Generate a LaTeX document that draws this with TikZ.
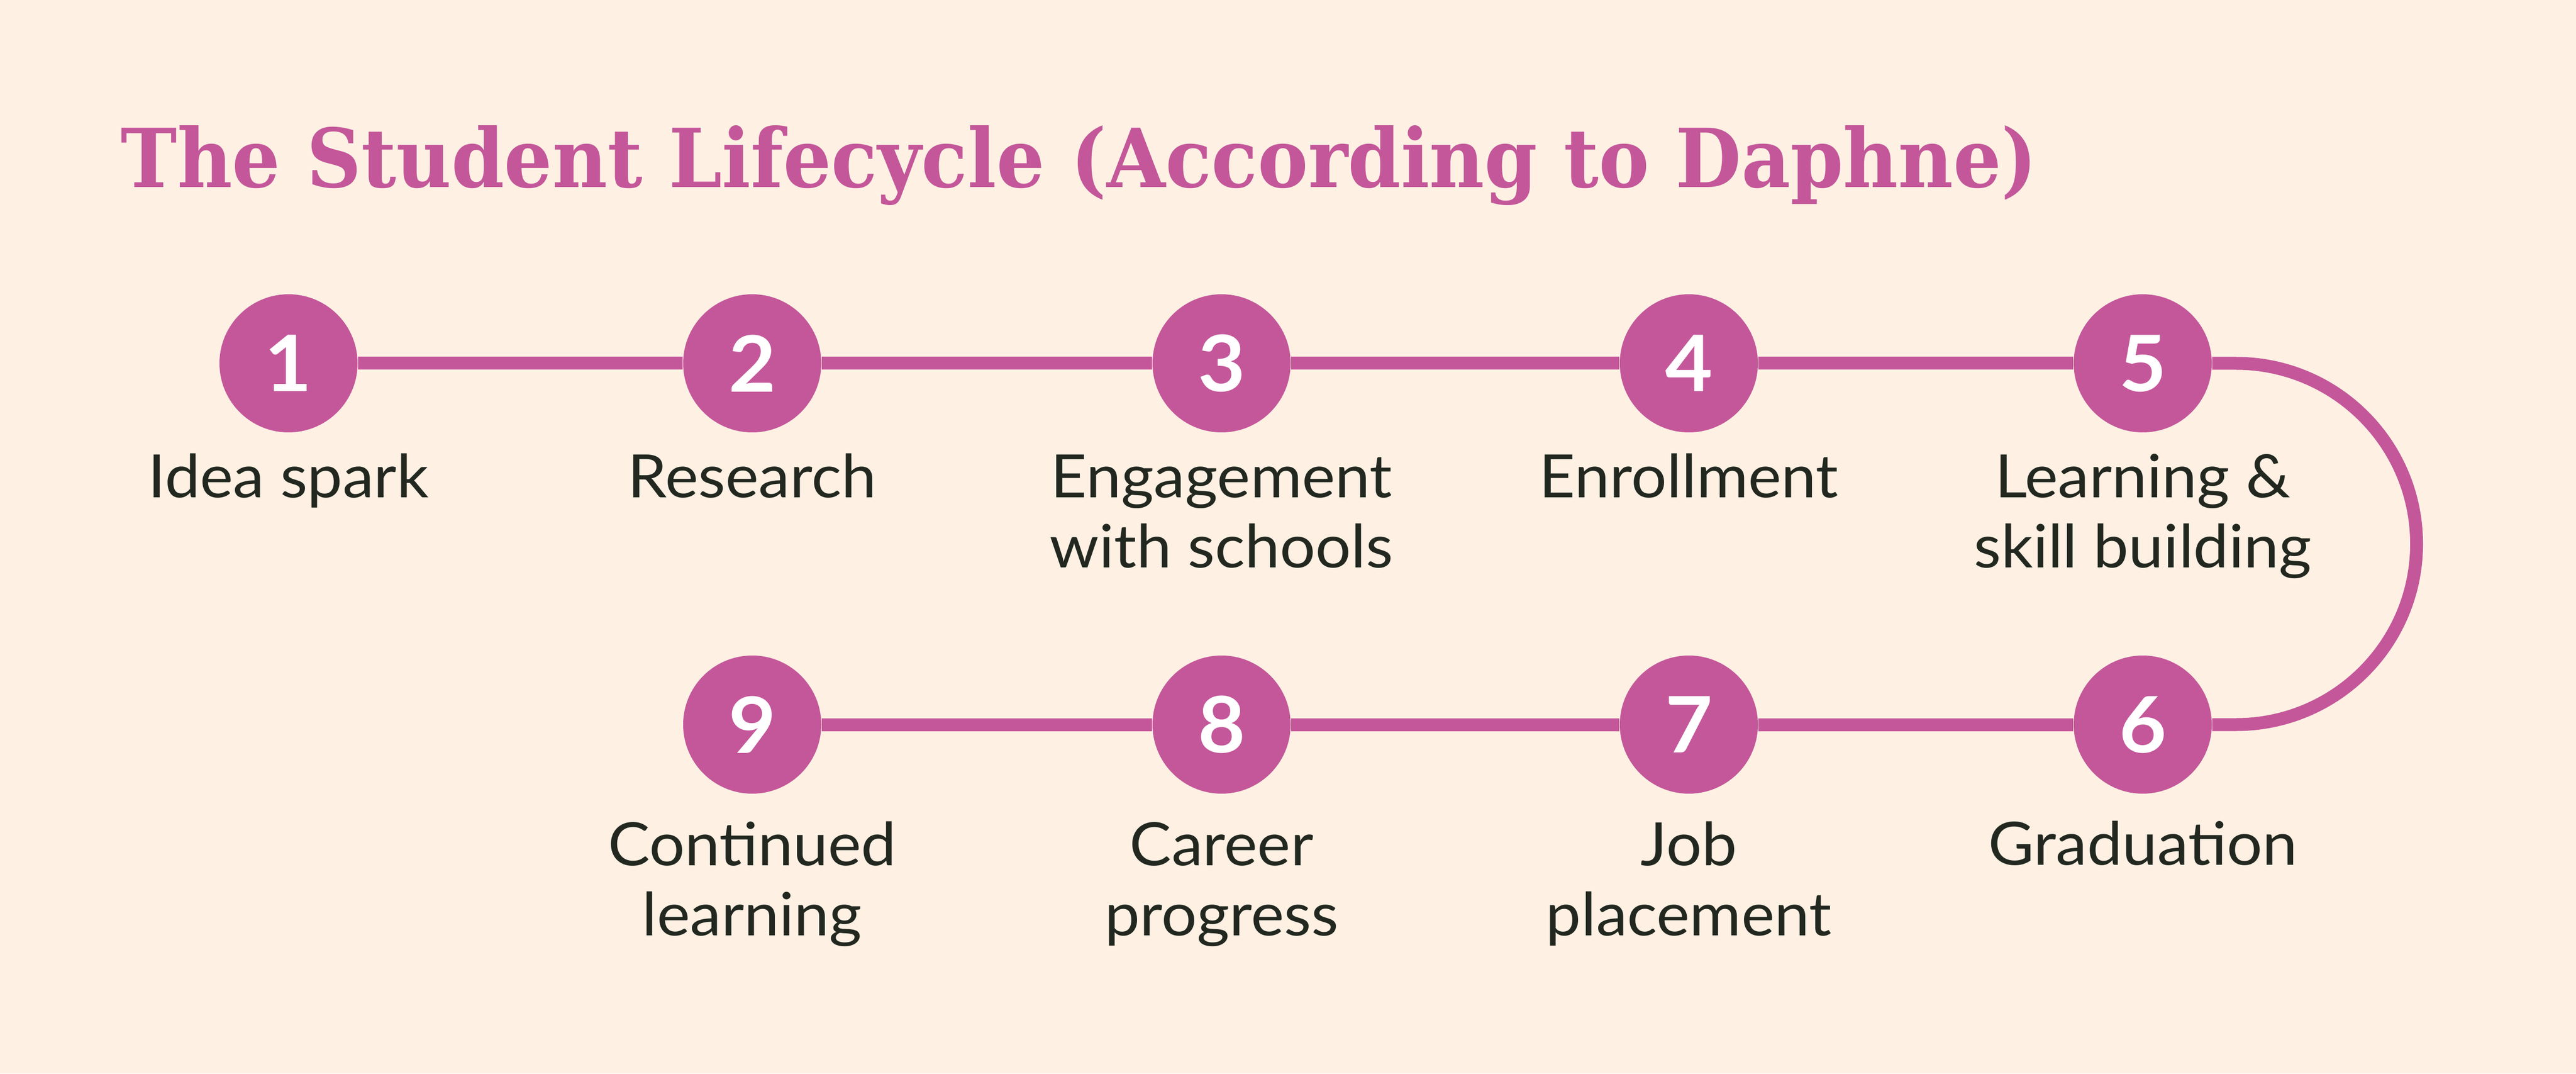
\documentclass[tikz,border=0pt]{standalone}
\usepackage{fontspec}
\setmainfont{Lato}[FakeStretch=1.05]
\newfontfamily\titlefont{DejaVu Serif}
\usetikzlibrary{positioning}
\definecolor{peach}{HTML}{FEF0E3}
\definecolor{orchid}{HTML}{C4579A}
\definecolor{ink}{HTML}{22281F}
\tikzstyle{stepdot} = [circle, fill=orchid, minimum size=2.68cm, inner sep=0pt, text=white, font=\fontsize{43}{43}\selectfont\bfseries]
\tikzstyle{steplabel} = [anchor=base, align=center, inner sep=0pt, text=ink, font=\fontsize{33}{38.6}\selectfont]
\tikzstyle{track} = [draw=orchid, line width=0.25cm]

\begin{document}
\begin{tikzpicture}[node distance=9cm]

\path[fill=peach, use as bounding box] (0,0) rectangle (50,20.83);

\node (title) [anchor=base west, inner sep=0pt, text=orchid] at (2.34,17.19) {\resizebox{37.2cm}{1.2cm}{\titlefont\fontsize{45}{45}\selectfont\bfseries The Student Lifecycle (According to Daphne)}};

\node (step1) [stepdot] at (5.60,13.78) {1};
\node (step2) [stepdot, right of=step1] {2};
\node (step3) [stepdot, right of=step2, xshift=0.11cm] {3};
\node (step4) [stepdot, right of=step3, xshift=0.07cm] {4};
\node (step5) [stepdot, right of=step4, xshift=-0.19cm] {5};
\node (step6) [stepdot, below of=step5, yshift=1.99cm] {6};
\node (step7) [stepdot, below of=step4, yshift=1.99cm] {7};
\node (step8) [stepdot, below of=step3, yshift=1.99cm] {8};
\node (step9) [stepdot, below of=step2, yshift=1.99cm] {9};

\node (lab1) [steplabel] at ([yshift=-2.61cm]step1.center) {Idea spark};
\node (lab2) [steplabel] at ([yshift=-2.61cm]step2.center) {Research};
\node (lab3) [steplabel] at ([yshift=-3.96cm]step3.center) {Engagement\\with schools};
\node (lab4) [steplabel] at ([yshift=-2.61cm]step4.center) {Enrollment};
\node (lab5) [steplabel] at ([yshift=-3.96cm]step5.center) {Learning \&\\skill building};
\node (lab6) [steplabel] at ([yshift=-2.72cm]step6.center) {Graduation};
\node (lab7) [steplabel] at ([yshift=-4.09cm]step7.center) {Job\\placement};
\node (lab8) [steplabel] at ([yshift=-4.09cm]step8.center) {Career\\progress};
\node (lab9) [steplabel] at ([yshift=-4.09cm]step9.center) {Continued\\learning};

\draw [track] (step1) -- (step2);
\draw [track] (step2) -- (step3);
\draw [track] (step3) -- (step4);
\draw [track] (step4) -- (step5);
\draw [track] (step5) -- ([xshift=1.81cm]step5.center) arc[start angle=90, end angle=-90, radius=3.505cm] -- (step6);
\draw [track] (step6) -- (step7);
\draw [track] (step7) -- (step8);
\draw [track] (step8) -- (step9);

\end{tikzpicture}
\end{document}
